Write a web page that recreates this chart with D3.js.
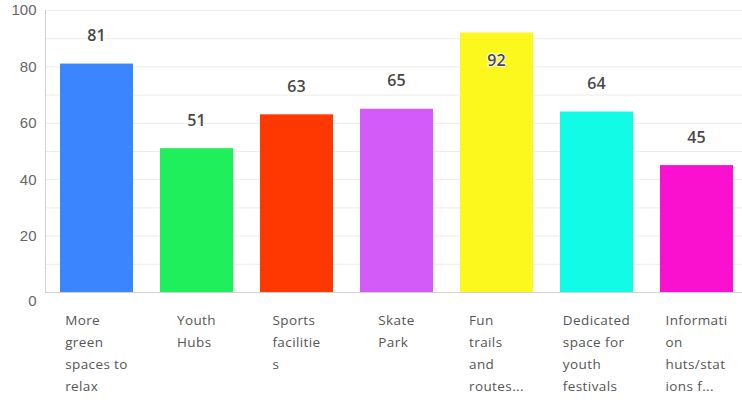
<!DOCTYPE html>
<html>
<head>
<meta charset="utf-8">
<script src="https://cdn.jsdelivr.net/npm/d3@7"></script>
<style>
  body { margin: 0; background: #fff; }
  svg { display: block; font-family: "Open Sans", "Noto Sans", sans-serif; }
</style>
</head>
<body>
<svg id="chart" width="742" height="402"></svg>
<script>
// Données du graphique
const categories = ['More green spaces to relax', 'Youth Hubs', 'Sports facilities', 'Skate Park',
    'Fun trails and routes...', 'Dedicated space for youth festivals', 'Information huts/stations f...'];
const labelLines = [
    ['More', 'green', 'spaces to', 'relax'],
    ['Youth', 'Hubs'],
    ['Sports', 'facilitie', 's'],
    ['Skate', 'Park'],
    ['Fun', 'trails', 'and', 'routes...'],
    ['Dedicated', 'space for', 'youth', 'festivals'],
    ['Informati', 'on', 'huts/stat', 'ions f...']
];
const values = [81, 51, 63, 65, 92, 64, 45];
const colors = ['#3b86ff', '#1fef5a', '#ff3700', '#d35bf7', '#fcf81d', '#12fbe6', '#fa10cf'];
const yTicks = [0, 20, 40, 60, 80, 100];

const svg = d3.select('#chart');

const x = d3.scaleBand()
    .domain(categories)
    .range([46, 747])
    .paddingInner(0.27)
    .paddingOuter(0.14);

const y = d3.scaleLinear().domain([0, 100]).range([292, 10]);

// Grille horizontale (tous les 10)
svg.append('g')
    .selectAll('line')
    .data(d3.range(10, 101, 10))
    .enter().append('line')
    .attr('x1', 46).attr('x2', 742)
    .attr('y1', d => y(d) + 0.5).attr('y2', d => y(d) + 0.5)
    .attr('stroke', '#ececec');

// Axe Y
const yAxis = svg.append('g')
    .attr('transform', 'translate(45.5,0)')
    .call(d3.axisLeft(y).tickValues(yTicks).tickSize(0).tickPadding(9));
yAxis.select('.domain').attr('stroke', '#d0d0d0').attr('d', 'M0,' + y(100) + 'V' + (y(0) + 1));
yAxis.selectAll('text')
    .attr('fill', '#666')
    .style('font-size', '15px')
    .attr('dy', d => d === 0 ? '0.9em' : '0.32em');

// Barres
svg.append('g')
    .selectAll('rect')
    .data(values)
    .enter().append('rect')
    .attr('x', (d, i) => x(categories[i]))
    .attr('y', d => y(d))
    .attr('width', x.bandwidth())
    .attr('height', d => y(0) - y(d))
    .attr('fill', (d, i) => colors[i]);

// Axe X (ligne de base)
svg.append('line')
    .attr('x1', 45).attr('x2', 742)
    .attr('y1', y(0) + 0.5).attr('y2', y(0) + 0.5)
    .attr('stroke', '#d0d0d0');

// Étiquettes de valeur
svg.append('g')
    .selectAll('text')
    .data(values)
    .enter().append('text')
    .attr('x', (d, i) => x(categories[i]) + x.bandwidth() / 2)
    .attr('y', d => {
        const top = y(d);
        return (top - 28 < 14 ? top + 28 : top - 28);
    })
    .attr('dy', '0.35em')
    .attr('text-anchor', 'middle')
    .attr('fill', '#484848')
    .attr('stroke', '#fff')
    .attr('stroke-width', 2)
    .attr('paint-order', 'stroke')
    .style('font-size', '16px')
    .style('font-weight', '600')
    .text(d => d);

// Libellés des catégories (bloc centré sous la barre, lignes alignées à gauche)
const labels = svg.append('g')
    .selectAll('text')
    .data(labelLines)
    .enter().append('text')
    .attr('y', 320)
    .attr('fill', '#555')
    .style('font-size', '13.5px')
    .style('letter-spacing', '0.4px');

labels.selectAll('tspan')
    .data(d => d)
    .enter().append('tspan')
    .attr('dy', (d, j) => j === 0 ? '0.35em' : '22px')
    .text(d => d);

labels.each(function (d, i) {
    const spans = d3.select(this).selectAll('tspan');
    let w = 0;
    spans.each(function () { w = Math.max(w, this.getComputedTextLength()); });
    const left = x(categories[i]) + x.bandwidth() / 2 - w / 2;
    spans.attr('x', left);
});
</script>
</body>
</html>
